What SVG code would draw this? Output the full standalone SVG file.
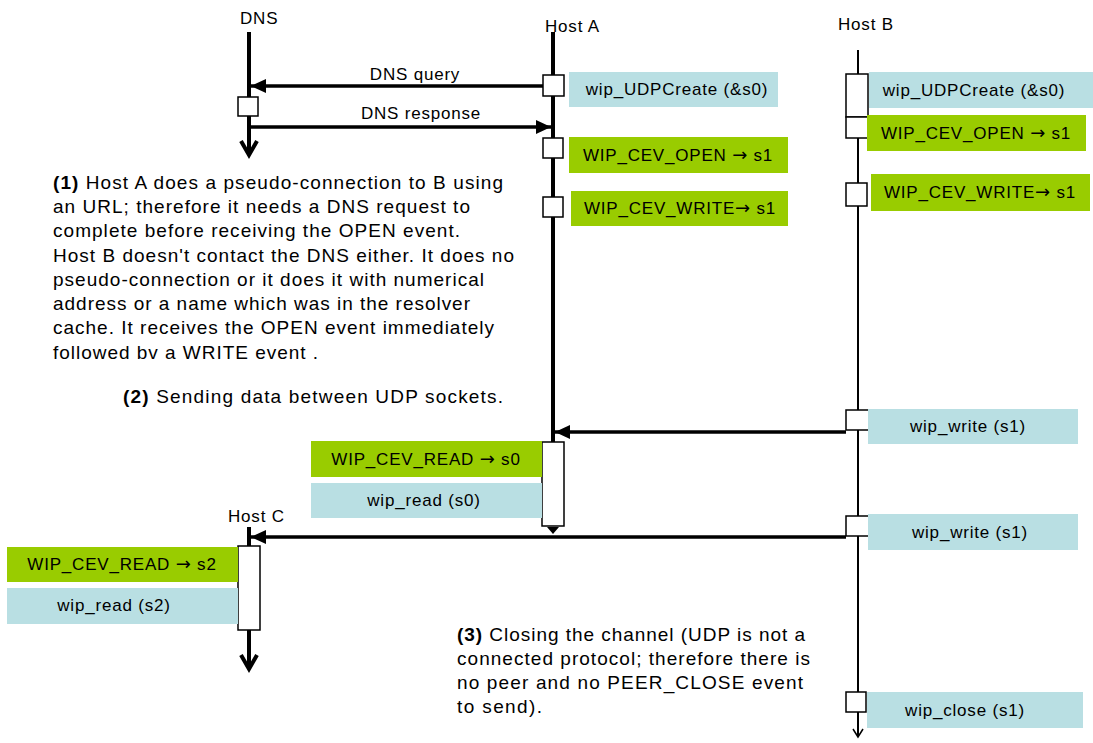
<svg xmlns="http://www.w3.org/2000/svg" width="1093" height="743" viewBox="0 0 1093 743">
  <style>
    .lbl { font-family: "Liberation Sans", Arial, sans-serif; font-size: 17px; letter-spacing: 0.8px; fill: #000; }
    .mid { text-anchor: middle; }
    .arr { font-family: "DejaVu Sans", sans-serif; font-size: 18px; }
    .note { font-family: "Liberation Sans", Arial, sans-serif; font-size: 19px; fill: #000; }
    .act { fill: #fff; stroke: #000; stroke-width: 1.5; }
    .evt { fill: #99cc00; }
    .call { fill: #b9dfe3; }
    .life { stroke: #000; stroke-width: 4; fill: none; }
    .thin { stroke: #000; stroke-width: 2; fill: none; }
    .msg { stroke: #000; stroke-width: 3.5; fill: none; marker-end: url(#head); }
  </style>
  <defs>
    <marker id="head" markerUnits="userSpaceOnUse" markerWidth="15" markerHeight="14" refX="15" refY="7" orient="auto">
      <path d="M0,0 L15,7 L0,14 z" fill="#000"/>
    </marker>
  </defs>
  <rect width="1093" height="743" fill="#fff"/>

  <!-- DNS lifeline -->
  <g id="dns">
    <text class="lbl" x="240" y="24">DNS</text>
    <line class="life" x1="249" y1="32" x2="249" y2="154"/>
    <polyline class="life" points="241,141 249,155 257,141"/>
    <rect class="act" x="238" y="97" width="20" height="19"/>
  </g>

  <!-- Host A lifeline -->
  <g id="host-a">
    <text class="lbl" x="545" y="32">Host A</text>
    <line class="life" x1="553" y1="32" x2="553" y2="526"/>
    <rect class="act" x="543" y="75" width="21" height="21"/>
    <rect class="act" x="543" y="138" width="20" height="20"/>
    <rect class="act" x="543" y="197" width="20" height="20"/>
    <rect class="act" x="542" y="442" width="22" height="84"/>
    <polygon points="547,527 559,527 553,534" fill="#000"/>
  </g>

  <!-- Host B lifeline -->
  <g id="host-b">
    <text class="lbl" x="838" y="30">Host B</text>
    <line class="thin" x1="858" y1="50" x2="858" y2="737"/>
    <polyline points="853,729 858,737 863,729" stroke="#000" stroke-width="1.5" fill="none"/>
    <rect class="act" x="846" y="74" width="22" height="43"/>
    <rect class="act" x="846" y="117" width="22" height="21"/>
    <rect class="act" x="846" y="183" width="21" height="23"/>
    <rect class="act" x="846" y="410" width="23" height="20"/>
    <rect class="act" x="846" y="516" width="23" height="20"/>
    <rect class="act" x="846" y="692" width="20" height="20"/>
  </g>

  <!-- Host C lifeline -->
  <g id="host-c">
    <text class="lbl" x="228" y="522">Host C</text>
    <line class="life" x1="249" y1="527" x2="249" y2="668"/>
    <polyline class="life" points="241,655 249,669 257,655"/>
    <rect class="act" x="238" y="546" width="22" height="84"/>
  </g>

  <!-- Host A calls and events -->
  <g id="a-udpcreate">
    <rect class="call" x="569" y="72" width="209" height="35"/>
    <text class="lbl mid" x="677" y="95">wip_UDPCreate (&amp;s0)</text>
  </g>
  <g id="a-open">
    <rect class="evt" x="569" y="137" width="219" height="36"/>
    <text class="lbl mid" x="678" y="161">WIP_CEV_OPEN <tspan class="arr">→</tspan> s1</text>
  </g>
  <g id="a-write">
    <rect class="evt" x="571" y="191" width="217" height="35"/>
    <text class="lbl mid" x="680" y="214">WIP_CEV_WRITE<tspan class="arr">→</tspan> s1</text>
  </g>
  <g id="a-read-evt">
    <rect class="evt" x="311" y="441" width="231" height="36"/>
    <text class="lbl mid" x="426" y="465">WIP_CEV_READ <tspan class="arr">→</tspan> s0</text>
  </g>
  <g id="a-read-call">
    <rect class="call" x="311" y="483" width="231" height="35"/>
    <text class="lbl mid" x="424" y="506">wip_read (s0)</text>
  </g>

  <!-- Host B calls and events -->
  <g id="b-udpcreate">
    <rect class="call" x="869" y="72" width="224" height="36"/>
    <text class="lbl mid" x="974" y="96">wip_UDPCreate (&amp;s0)</text>
  </g>
  <g id="b-open">
    <rect class="evt" x="867" y="115" width="219" height="36"/>
    <text class="lbl mid" x="976" y="139">WIP_CEV_OPEN <tspan class="arr">→</tspan> s1</text>
  </g>
  <g id="b-write">
    <rect class="evt" x="871" y="174" width="219" height="37"/>
    <text class="lbl mid" x="980" y="198">WIP_CEV_WRITE<tspan class="arr">→</tspan> s1</text>
  </g>
  <g id="b-write-1">
    <rect class="call" x="868" y="409" width="210" height="35"/>
    <text class="lbl mid" x="968" y="432">wip_write (s1)</text>
  </g>
  <g id="b-write-2">
    <rect class="call" x="868" y="514" width="210" height="36"/>
    <text class="lbl mid" x="970" y="538">wip_write (s1)</text>
  </g>
  <g id="b-close">
    <rect class="call" x="867" y="692" width="216" height="36"/>
    <text class="lbl mid" x="965" y="716">wip_close (s1)</text>
  </g>

  <!-- Host C events and calls -->
  <g id="c-read-evt">
    <rect class="evt" x="7" y="547" width="231" height="35"/>
    <text class="lbl mid" x="122" y="570">WIP_CEV_READ <tspan class="arr">→</tspan> s2</text>
  </g>
  <g id="c-read-call">
    <rect class="call" x="7" y="588" width="231" height="36"/>
    <text class="lbl mid" x="114" y="611">wip_read (s2)</text>
  </g>

  <!-- Messages -->
  <g id="connectors">
    <line class="msg" x1="543" y1="86" x2="251" y2="86"/>
    <text class="lbl mid" x="415" y="80">DNS query</text>
    <line class="msg" x1="251" y1="127" x2="551" y2="127"/>
    <text class="lbl mid" x="421" y="119">DNS response</text>
    <line class="msg" x1="846" y1="432" x2="555" y2="432"/>
    <line class="msg" x1="846" y1="537" x2="251" y2="537"/>
  </g>

  <!-- Notes -->
  <g id="note-1">
    <text class="note" x="53" y="189" textLength="450" lengthAdjust="spacing"><tspan font-weight="bold">(1)</tspan> Host A does a pseudo-connection to B using</text>
    <text class="note" x="53" y="213" textLength="417" lengthAdjust="spacing">an URL; therefore it needs a DNS request to</text>
    <text class="note" x="53" y="237" textLength="407" lengthAdjust="spacing">complete before receiving the OPEN event.</text>
    <text class="note" x="53" y="262" textLength="461" lengthAdjust="spacing">Host B doesn't contact the DNS either. It does no</text>
    <text class="note" x="53" y="286" textLength="431" lengthAdjust="spacing">pseudo-connection or it does it with numerical</text>
    <text class="note" x="53" y="310" textLength="417" lengthAdjust="spacing">address or a name which was in the resolver</text>
    <text class="note" x="53" y="334" textLength="441" lengthAdjust="spacing">cache. It receives the OPEN event immediately</text>
    <text class="note" x="53" y="359" textLength="265" lengthAdjust="spacing">followed bv a WRITE event .</text>
  </g>
  <g id="note-2">
    <text class="note" x="123" y="403" textLength="380" lengthAdjust="spacing"><tspan font-weight="bold">(2)</tspan> Sending data between UDP sockets.</text>
  </g>
  <g id="note-3">
    <text class="note" x="457" y="641" textLength="348" lengthAdjust="spacing"><tspan font-weight="bold">(3)</tspan> Closing the channel (UDP is not a</text>
    <text class="note" x="457" y="665" textLength="353" lengthAdjust="spacing">connected protocol; therefore there is</text>
    <text class="note" x="457" y="689" textLength="346" lengthAdjust="spacing">no peer and no PEER_CLOSE event</text>
    <text class="note" x="457" y="713" textLength="85" lengthAdjust="spacing">to send).</text>
  </g>
</svg>
